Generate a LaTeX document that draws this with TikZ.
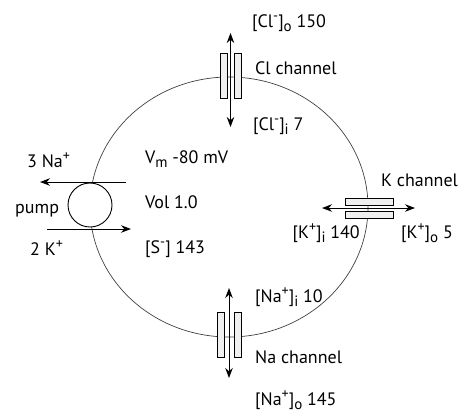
\documentclass[tikz,border=0pt]{standalone}
\usepackage{fontspec}
\setmainfont{PT Sans}
\usetikzlibrary{arrows.meta}
\newcommand\mysup[1]{\raisebox{6.5pt}{\fontsize{14}{14}\selectfont #1}}
\newcommand\mysub[1]{\raisebox{-4.5pt}{\fontsize{15}{15}\selectfont #1}}
\begin{document}
\begin{tikzpicture}[x=1pt,y=-1pt,
  lbl/.style={font=\fontsize{18}{20}\selectfont, inner sep=0pt},
  membrane/.style={draw=black!75, line width=0.7pt},
  flux/.style={line width=1pt, {Stealth[length=10pt,width=7.5pt]}-{Stealth[length=10pt,width=7.5pt]}},
  oneway/.style={line width=1pt, -{Stealth[length=10pt,width=7.5pt]}},
  vbar/.style={draw, line width=0.7pt, fill=gray!12, minimum width=7pt, minimum height=45pt, inner sep=0pt},
  hbar/.style={draw, line width=0.7pt, fill=gray!12, minimum width=48pt, minimum height=7pt, inner sep=0pt}]
\useasboundingbox (0,0) rectangle (462,413);
% cell membrane
\draw[membrane] (229,207) ellipse [x radius=139, y radius=130];
% pump
\node[draw, circle, line width=0.9pt, fill=white, minimum size=44pt, inner sep=0pt] (pump) at (90,205) {};
\coordinate (nas) at (126,182);
\coordinate (nae) at (40,182);
\coordinate (ks) at (47,229);
\coordinate (ke) at (131,229);
\draw[oneway] (nas) -- (nae);
\draw[oneway] (ks) -- (ke);
% Cl channel
\node[vbar] (cl1) at (223.5,75.5) {};
\node[vbar] (cl2) at (237.5,75.5) {};
\coordinate (clt) at (230.5,33);
\coordinate (clb) at (230.5,127);
\draw[flux] (clt) -- (clb);
% Na channel
\node[vbar] (na1) at (220.5,335) {};
\node[vbar] (na2) at (237.5,335) {};
\coordinate (nat) at (229,288);
\coordinate (nab) at (229,378);
\draw[flux] (nat) -- (nab);
% K channel
\node[hbar] (k1) at (369,201.5) {};
\node[hbar] (k2) at (369,214.5) {};
\coordinate (kl) at (322,208);
\coordinate (kr) at (415,208);
\draw[flux] (kl) -- (kr);
% labels
\node[lbl, anchor=base west] (clo) at (252,27) {[Cl\mysup{-}]\mysub{o} 150};
\node[lbl, anchor=base west] (clc) at (255,74) {Cl channel};
\node[lbl, anchor=base west] (cli) at (253,130) {[Cl\mysup{-}]\mysub{i} 7};
\node[lbl, anchor=base west] (na3) at (27,167) {3 Na\mysup{+}};
\node[lbl, anchor=base west] (pl) at (15,213) {pump};
\node[lbl, anchor=base west] (k2l) at (30,255) {2 K\mysup{+}};
\node[lbl, anchor=base west] (vm) at (145,163) {V\mysub{m} -80 mV};
\node[lbl, anchor=base west] (vol) at (145,208) {Vol 1.0};
\node[lbl, anchor=base west] (sm) at (145,253) {[S\mysup{-}] 143};
\node[lbl, anchor=base west] (kc) at (381,186) {K channel};
\node[lbl, anchor=base east] (ki) at (360,238) {[K\mysup{+}]\mysub{i} 140};
\node[lbl, anchor=base west] (ko) at (401,238) {[K\mysup{+}]\mysub{o} 5};
\node[lbl, anchor=base west] (nai) at (255,302) {[Na\mysup{+}]\mysub{i} 10};
\node[lbl, anchor=base west] (nac) at (255,363) {Na channel};
\node[lbl, anchor=base west] (nao) at (255,405) {[Na\mysup{+}]\mysub{o} 145};
\end{tikzpicture}
\end{document}
